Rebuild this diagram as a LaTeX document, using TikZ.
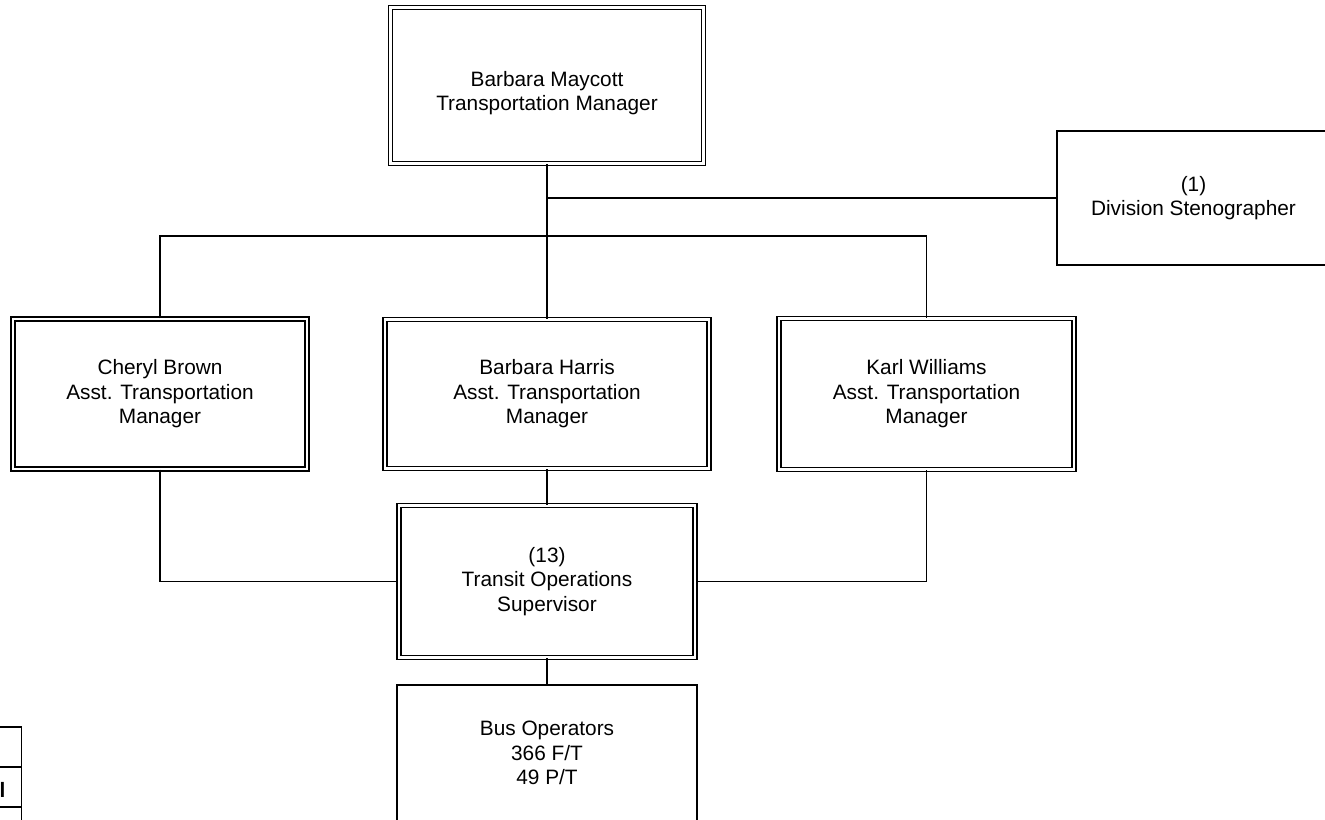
\documentclass[tikz,border=0pt]{standalone}
\usepackage{fontspec}
\setmainfont{Liberation Sans}
\tikzset{
    post/.style  = {rectangle, draw, line width=0.8pt, double, double distance=1.3pt,
                    align=center, font=\fontsize{11.85}{13.9}\selectfont},
    seat/.style  = {rectangle, draw, line width=1pt,
                    align=center, font=\fontsize{11.85}{13.9}\selectfont},
    link/.style  = {line width=0.8pt},
}
\begin{document}
\begin{tikzpicture}
        \useasboundingbox (0,0) rectangle (26.5,-16.4);
        \node [post, minimum width=6.26cm, minimum height=3.12cm]  (top)   at (10.94,-1.71)
              {\rule{0pt}{17.4pt}Barbara Maycott\\Transportation Manager};
        \node [post, below of= top, node distance=6.17cm, minimum width=6.48cm, minimum height=2.98cm] (harris)
              {Barbara Harris\\Asst. Transportation\\Manager};
        \node [post, left of= harris, node distance=7.74cm, minimum width=5.88cm, minimum height=3.0cm] (brown)
              {Cheryl Brown\\Asst. Transportation\\Manager};
        \node [post, right of= harris, node distance=7.59cm, minimum width=5.9cm, minimum height=3.02cm] (williams)
              {Karl Williams\\Asst. Transportation\\Manager};
        \node [post, below of= harris, node distance=3.75cm, minimum width=5.92cm, minimum height=3.04cm] (super)
              {(13)\\Transit Operations\\Supervisor};
        \node [seat, below of= super, node distance=3.43cm, minimum width=6.0cm, minimum height=2.72cm] (bus)
              {Bus Operators\\366 F/T\\49 P/T};
        \node [seat, right of= top, node distance=12.93cm, yshift=-2.25cm, minimum width=5.46cm, minimum height=2.68cm] (steno)
              {(1)\\Division Stenographer};
        \coordinate (split) at (10.96,-4.72);
        \draw [link] (top.south)      |- (steno.west);
        \draw [link] (top)            -- (harris);
        \draw [link] (brown.north)    |- (split) -| (williams.north);
        \draw [link] (harris)         -- (super);
        \draw [link] (brown.south)    |- (super.west);
        \draw [link] (williams.south) |- (super.east);
        \draw [link] (super)          -- (bus);
        % table cut off at the lower left
        \draw [line width=1pt] (0,-14.54) -- (0.43,-14.54) -- (0.43,-16.4);
        \draw [line width=1pt] (0,-15.34) -- (0.43,-15.34);
        \draw [line width=1pt] (0,-16.14) -- (0.43,-16.14);
        \node [font=\fontsize{11.85}{13.9}\selectfont\bfseries, inner sep=0pt] (cell) at (0.05,-15.79) {l};
    \end{tikzpicture}
\end{document}
